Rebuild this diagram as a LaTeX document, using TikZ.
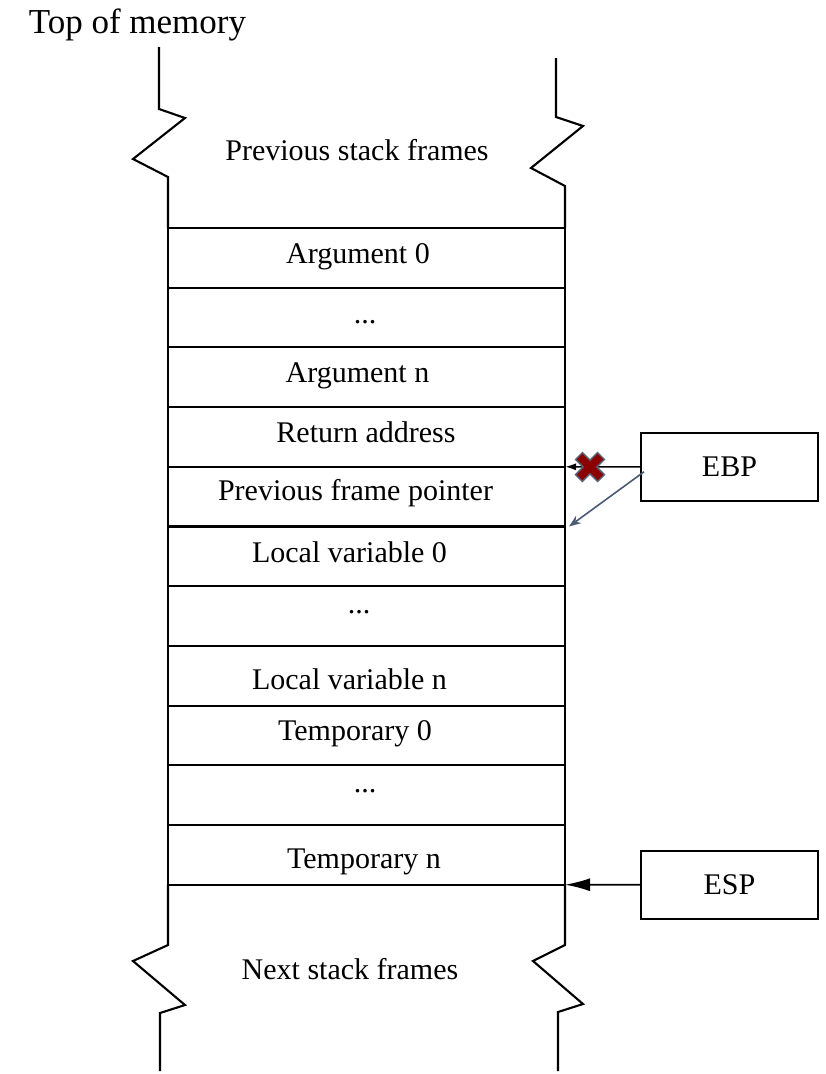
\documentclass[tikz,border=0pt]{standalone}
\usepackage{fontspec}
\setmainfont{Liberation Serif}
\usetikzlibrary{arrows.meta,calc}
\definecolor{pointerblue}{HTML}{4A5B73}
\definecolor{crossred}{HTML}{8B0000}
\definecolor{crossedge}{HTML}{566577}
\begin{document}
\begin{tikzpicture}[x=1pt,y=-1pt,line width=2.1pt,line join=miter,
  cell/.style={draw,minimum width=397pt,minimum height=59.7pt,inner sep=0pt,outer sep=0pt},
  lbl/.style={anchor=base,inner sep=0pt,font=\fontsize{30}{36}\selectfont},
  regbox/.style={draw,minimum width=177pt,minimum height=68pt,inner sep=0pt,outer sep=0pt,
    font=\fontsize{30}{36}\selectfont},
  sideline/.style={line width=2.1pt}]
\useasboundingbox (0,0) rectangle (825,1074);

% title
\node[anchor=base,inner sep=0pt,font=\fontsize{35}{40}\selectfont] (title) at (137.5,33) {Top of memory};

% stack cells
\foreach \k in {0,...,10}
  \node[cell] (c\k) at (366.5,{228+59.7*(\k+0.5)}) {};

% cell texts
\node[lbl] (t0)  at (358,263)   {Argument 0};
\node[lbl] (t1)  at (365,323)   {...};
\node[lbl] (t2)  at (357.5,382) {Argument n};
\node[lbl] (t3)  at (366,442)   {Return address};
\node[lbl] (t4)  at (355.5,500) {Previous frame pointer};
\node[lbl] (t5)  at (349.5,562) {Local variable 0};
\node[lbl] (t6)  at (359,613)   {...};
\node[lbl] (t7)  at (349.5,689) {Local variable n};
\node[lbl] (t8)  at (355,740)   {Temporary 0};
\node[lbl] (t9)  at (365,792)   {...};
\node[lbl] (t10) at (364,868)   {Temporary n};

% open-ended regions above and below the frame
\node[lbl] (prev) at (357,160) {Previous stack frames};
\node[lbl] (next) at (350,979) {Next stack frames};

% broken side walls, top
\draw[sideline] (159,47) -- (159,109) -- (185,118) -- (133,159) -- (168,177) -- (c0.north west);
\draw[sideline] (556,58) -- (556,117) -- (583,126) -- (531,168) -- (565,186) -- (c0.north east);
% broken side walls, bottom
\draw[sideline] (c10.south west) -- (168,945) -- (133,961) -- (185,1005) -- (160,1013) -- (160,1071);
\draw[sideline] (c10.south east) -- (565,945) -- (533,961) -- (583,1004) -- (558,1012) -- (558,1071);

% registers
\node[regbox] (ebp) at (729.5,466.8) {EBP};
\node[regbox] (esp) at (729.5,884.7) {ESP};

% old EBP target (crossed out)
\draw[line width=1.6pt,-{Latex[length=11pt,width=7pt]}] (ebp.west) -- (c3.south east);
\coordinate (xmark) at (590,467);
\draw[crossedge,line width=11pt,line cap=butt] ($(xmark)+(-11.5,-11.5)$) -- ($(xmark)+(11.5,11.5)$);
\draw[crossedge,line width=11pt,line cap=butt] ($(xmark)+(-11.5,11.5)$) -- ($(xmark)+(11.5,-11.5)$);
\draw[crossred,line width=8pt,line cap=butt] ($(xmark)+(-10.4,-10.4)$) -- ($(xmark)+(10.4,10.4)$);
\draw[crossred,line width=8pt,line cap=butt] ($(xmark)+(-10.4,10.4)$) -- ($(xmark)+(10.4,-10.4)$);

% new EBP target
\draw[pointerblue,line width=1.6pt,-{Stealth[length=12pt,width=9pt]}]
  ([xshift=3pt,yshift=-5pt]ebp.west) -- ([xshift=4pt]c4.south east);

% stack pointer
\draw[line width=1.6pt,-{Latex[length=25pt,width=13pt]}] (esp.west) -- (c10.south east);
\end{tikzpicture}
\end{document}
